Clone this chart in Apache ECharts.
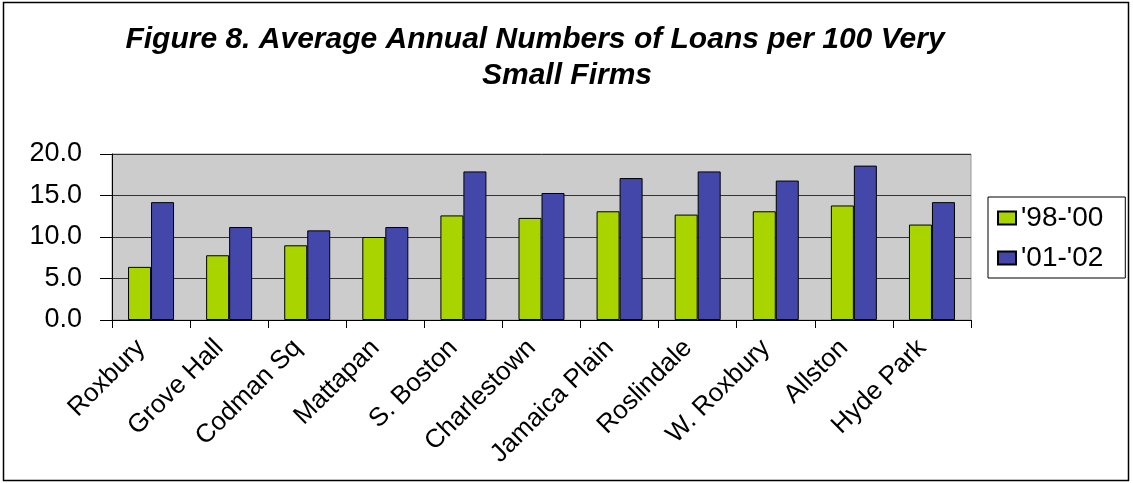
<!DOCTYPE html>
<html><head><meta charset="utf-8">
<script src="https://cdn.jsdelivr.net/npm/echarts@6/dist/echarts.min.js"></script>
<style>html,body{margin:0;padding:0;background:#fff}#c{width:1133px;height:483px}</style>
</head><body><div id="c"></div>
<script>
var categories = ['Roxbury','Grove Hall','Codman Sq','Mattapan','S. Boston','Charlestown','Jamaica Plain','Roslindale','W. Roxbury','Allston','Hyde Park'];
var s9800 = [6.4, 7.8, 9.0, 10.0, 12.6, 12.3, 13.1, 12.7, 13.1, 13.8, 11.5];
var s0102 = [14.2, 11.2, 10.8, 11.2, 17.9, 15.3, 17.1, 17.9, 16.8, 18.6, 14.2];
var seriesNames = ["'98-'00", "'01-'02"];
var titleLines = ['Figure 8. Average Annual Numbers of Loans per 100 Very', 'Small Firms'];

var chart = echarts.init(document.getElementById('c'));
var F = 'Liberation Sans, Arial, sans-serif';
chart.setOption({
  animation: false,
  backgroundColor: '#fff',
  title: [
    {text: titleLines[0], left: 530, top: 20, textAlign: 'center',
     textStyle: {fontFamily: F, fontSize: 30, fontWeight: 'bold', fontStyle: 'italic', color: '#000'}},
    {text: titleLines[1], left: 562, top: 56, textAlign: 'center',
     textStyle: {fontFamily: F, fontSize: 30, fontWeight: 'bold', fontStyle: 'italic', color: '#000'}}
  ],
  graphic: [{type: 'rect', shape: {x: 3.5, y: 2.5, width: 1125, height: 478}, style: {fill: 'none', stroke: '#000', lineWidth: 1.5}, silent: true}],
  legend: {
    orient: 'vertical', left: 988, top: 197,
    padding: [7, 22, 6, 9], itemGap: 12,
    borderColor: '#000', borderWidth: 1,
    itemWidth: 18, itemHeight: 13,
    textStyle: {fontFamily: F, fontSize: 28, color: '#000'},
    data: seriesNames.map(function(n){return {name: n, icon: 'rect'};})
  },
  grid: {left: 112, right: 162, top: 154, bottom: 163, show: true, backgroundColor: '#cccccc', borderColor: '#999', borderWidth: 1},
  xAxis: {
    type: 'category', data: categories,
    axisLine: {lineStyle: {color: '#000', width: 1}},
    axisTick: {show: true, alignWithLabel: false, length: 8, lineStyle: {color: '#000'}},
    axisLabel: {rotate: 45, fontFamily: F, fontSize: 26, color: '#000', margin: 14, padding: [0, 14, 0, 0], interval: 0}
  },
  yAxis: {
    type: 'value', min: 0, max: 20, interval: 5,
    axisLine: {show: true, lineStyle: {color: '#000'}},
    axisTick: {show: true, length: 12, lineStyle: {color: '#000'}},
    splitLine: {lineStyle: {color: '#333', width: 1}},
    axisLabel: {fontFamily: F, fontSize: 27, color: '#000', margin: 30, formatter: function(v){return v.toFixed(1);}}
  },
  series: [
    {name: seriesNames[0], type: 'bar', data: s9800, barWidth: 23, barGap: '0%',
     itemStyle: {color: '#aad400', borderColor: '#000', borderWidth: 1}},
    {name: seriesNames[1], type: 'bar', data: s0102, barWidth: 23, barGap: '0%',
     itemStyle: {color: '#4347a9', borderColor: '#000', borderWidth: 1}}
  ]
});
</script></body></html>
